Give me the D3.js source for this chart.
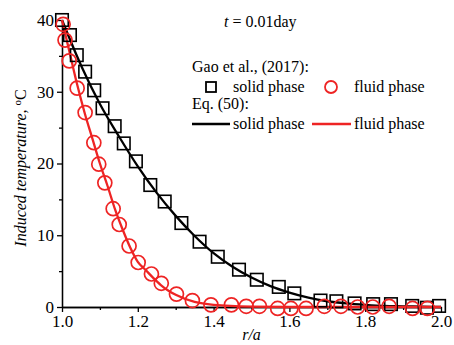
<!DOCTYPE html>
<html>
<head>
<meta charset="utf-8">
<script src="https://cdn.jsdelivr.net/npm/d3@7"></script>
<style>
  body { margin: 0; background: #fff; }
  svg text { font-family: "Liberation Serif", "Times New Roman", Times, "DejaVu Serif", serif; fill: #000; }
  .axis path, .axis line { stroke: #000; stroke-width: 1.3; }
</style>
</head>
<body>
<div id="chart"></div>
<script>
// Gao et al. (2017) symbols
var solidX = [1.0, 1.021, 1.039, 1.061, 1.085, 1.107, 1.139, 1.163, 1.195, 1.233, 1.271, 1.315, 1.363,
  1.411, 1.467, 1.514, 1.572, 1.613, 1.682, 1.724, 1.772, 1.821, 1.868, 1.924, 1.963, 1.995]
var solidY = [40, 37.9, 35.1, 32.8, 30.2, 27.7, 25.2, 22.8, 20.3, 17.0, 14.7, 11.7, 9.1,
  7.0, 5.2, 3.8, 2.8, 1.9, 0.9, 0.8, 0.5, 0.4, 0.4, 0.15, -0.1, 0.15]

var fluidX = [1.003, 1.008, 1.019, 1.040, 1.061, 1.084, 1.097, 1.113, 1.135, 1.151, 1.177, 1.201, 1.236,
  1.262, 1.302, 1.344, 1.393, 1.447, 1.486, 1.521, 1.569, 1.604, 1.644, 1.692, 1.736, 1.78, 1.82,
  1.863, 1.925, 1.964]
var fluidY = [39.4, 37.2, 34.3, 30.5, 27.1, 22.9, 19.9, 17.3, 13.7, 11.5, 8.5, 6.2, 4.6,
  3.3, 1.8, 0.9, 0.3, 0.3, 0.1, 0.1, -0.2, -0.2, -0.2, 0.1, 0.1, 0, 0,
  0.1, -0.2, -0.2]

// Eq. (50) curves
var eqSolidX = [1.0, 1.05, 1.1, 1.15, 1.2, 1.25, 1.3, 1.35, 1.4, 1.45, 1.5, 1.55, 1.6, 1.65, 1.7,
  1.75, 1.8, 1.85, 1.9, 1.95, 2.0]
var eqSolidY = [40, 33.7, 28.3, 23.8, 19.6, 15.9, 12.7, 9.9, 7.5, 5.6, 4.1, 2.9, 2.0, 1.3, 0.8,
  0.5, 0.3, 0.15, 0.1, 0.05, 0]

var eqFluidX = [1.0, 1.02, 1.04, 1.06, 1.08, 1.1, 1.12, 1.14, 1.16, 1.18, 1.2, 1.22, 1.24, 1.26,
  1.28, 1.3, 1.35, 1.4, 1.5, 1.6, 2.0]
var eqFluidY = [40, 35.5, 31, 27, 23.5, 20.0, 16.9, 13.6, 10.8, 8.3, 6.3, 5.2, 4.1, 3.1,
  2.3, 1.7, 0.7, 0.3, 0.05, 0, 0]

var xTicks = [1.0, 1.2, 1.4, 1.6, 1.8, 2.0]
var xMinor = [1.1, 1.3, 1.5, 1.7, 1.9]
var yTicks = [0, 10, 20, 30, 40]
var yMinor = [5, 15, 25, 35]

var red = '#ee2424'
var serif = '"Liberation Serif", "Times New Roman", Times, "DejaVu Serif", serif'

var W = 454, H = 345
var margin = { top: 20, right: 13, bottom: 38, left: 62 }
var w = W - margin.left - margin.right
var h = H - margin.top - margin.bottom

var svg = d3.select('#chart').append('svg')
  .attr('width', W)
  .attr('height', H)
  .attr('font-family', serif)

var g = svg.append('g')
  .attr('transform', 'translate(' + margin.left + ',' + margin.top + ')')

var x = d3.scaleLinear().domain([1.0, 2.0]).range([0, w])
var y = d3.scaleLinear().domain([0, 40]).range([h, 0])

// axes, major and minor ticks
g.append('g')
  .attr('class', 'axis')
  .attr('transform', 'translate(0,' + h + ')')
  .call(d3.axisBottom(x).tickValues(xTicks).tickFormat(d3.format('.1f')).tickSize(5).tickSizeOuter(0).tickPadding(3))
g.append('g')
  .attr('class', 'axis')
  .attr('transform', 'translate(0,' + h + ')')
  .call(d3.axisBottom(x).tickValues(xMinor).tickFormat('').tickSize(3).tickSizeOuter(0))

g.append('g')
  .attr('class', 'axis')
  .call(d3.axisLeft(y).tickValues(yTicks).tickSize(5).tickSizeOuter(0).tickPadding(3))
g.append('g')
  .attr('class', 'axis')
  .call(d3.axisLeft(y).tickValues(yMinor).tickFormat('').tickSize(3).tickSizeOuter(0))

svg.selectAll('.axis').attr('font-family', serif).attr('font-size', 17)
svg.selectAll('.axis text').style('font-family', serif).style('font-size', '17px')

// curves
var line = d3.line()
  .x(function(d) { return x(d[0]) })
  .y(function(d) { return y(d[1]) })
  .curve(d3.curveMonotoneX)

g.append('path')
  .datum(d3.zip(eqSolidX, eqSolidY))
  .attr('d', line)
  .attr('fill', 'none')
  .attr('stroke', '#000')
  .attr('stroke-width', 2.3)

g.append('path')
  .datum(d3.zip(eqFluidX, eqFluidY))
  .attr('d', line)
  .attr('fill', 'none')
  .attr('stroke', red)
  .attr('stroke-width', 2.3)

// symbols
var sq = 12.5
g.selectAll('.sq')
  .data(d3.zip(solidX, solidY))
  .enter().append('rect')
  .attr('class', 'sq')
  .attr('x', function(d) { return x(d[0]) - sq / 2 })
  .attr('y', function(d) { return y(d[1]) - sq / 2 })
  .attr('width', sq)
  .attr('height', sq)
  .attr('fill', 'none')
  .attr('stroke', '#000')
  .attr('stroke-width', 1.6)

g.selectAll('.ci')
  .data(d3.zip(fluidX, fluidY))
  .enter().append('circle')
  .attr('class', 'ci')
  .attr('cx', function(d) { return x(d[0]) })
  .attr('cy', function(d) { return y(d[1]) })
  .attr('r', 7)
  .attr('fill', 'none')
  .attr('stroke', red)
  .attr('stroke-width', 1.7)

// axis labels
svg.append('text')
  .attr('x', margin.left + w / 2)
  .attr('y', 340)
  .attr('text-anchor', 'middle')
  .style('font-size', '16px')
  .style('font-style', 'italic')
  .text('r/a')

var ylab = svg.append('text')
  .attr('transform', 'translate(26,' + 168 + ') rotate(-90)')
  .attr('text-anchor', 'middle')
  .style('font-size', '16px')
ylab.append('tspan').style('font-style', 'italic').text('Induced temperature, ')
ylab.append('tspan').attr('dy', -5).style('font-size', '11px').text('o')
ylab.append('tspan').attr('dy', 5).text('C')

// title
var title = svg.append('text')
  .attr('x', 224)
  .attr('y', 27)
  .style('font-size', '16px')
title.append('tspan').style('font-style', 'italic').text('t')
title.append('tspan').text(' = 0.01day')

// legend
var lg = svg.append('g')
lg.append('text').attr('x', 192).attr('y', 72).style('font-size', '16px').text('Gao et al., (2017):')
lg.append('rect').attr('x', 206).attr('y', 82).attr('width', 10).attr('height', 10)
  .attr('fill', 'none').attr('stroke', '#000').attr('stroke-width', 1.8)
lg.append('text').attr('x', 233).attr('y', 92).style('font-size', '16px').text('solid phase')
lg.append('circle').attr('cx', 331).attr('cy', 87).attr('r', 6)
  .attr('fill', 'none').attr('stroke', red).attr('stroke-width', 1.8)
lg.append('text').attr('x', 354).attr('y', 92).style('font-size', '16px').text('fluid phase')
lg.append('text').attr('x', 192).attr('y', 109).style('font-size', '16px').text('Eq. (50):')
lg.append('line').attr('x1', 192).attr('x2', 230).attr('y1', 124).attr('y2', 124)
  .attr('stroke', '#000').attr('stroke-width', 2.3)
lg.append('text').attr('x', 233).attr('y', 129).style('font-size', '16px').text('solid phase')
lg.append('line').attr('x1', 312).attr('x2', 351).attr('y1', 124).attr('y2', 124)
  .attr('stroke', red).attr('stroke-width', 2.3)
lg.append('text').attr('x', 354).attr('y', 129).style('font-size', '16px').text('fluid phase')
</script>
</body>
</html>
